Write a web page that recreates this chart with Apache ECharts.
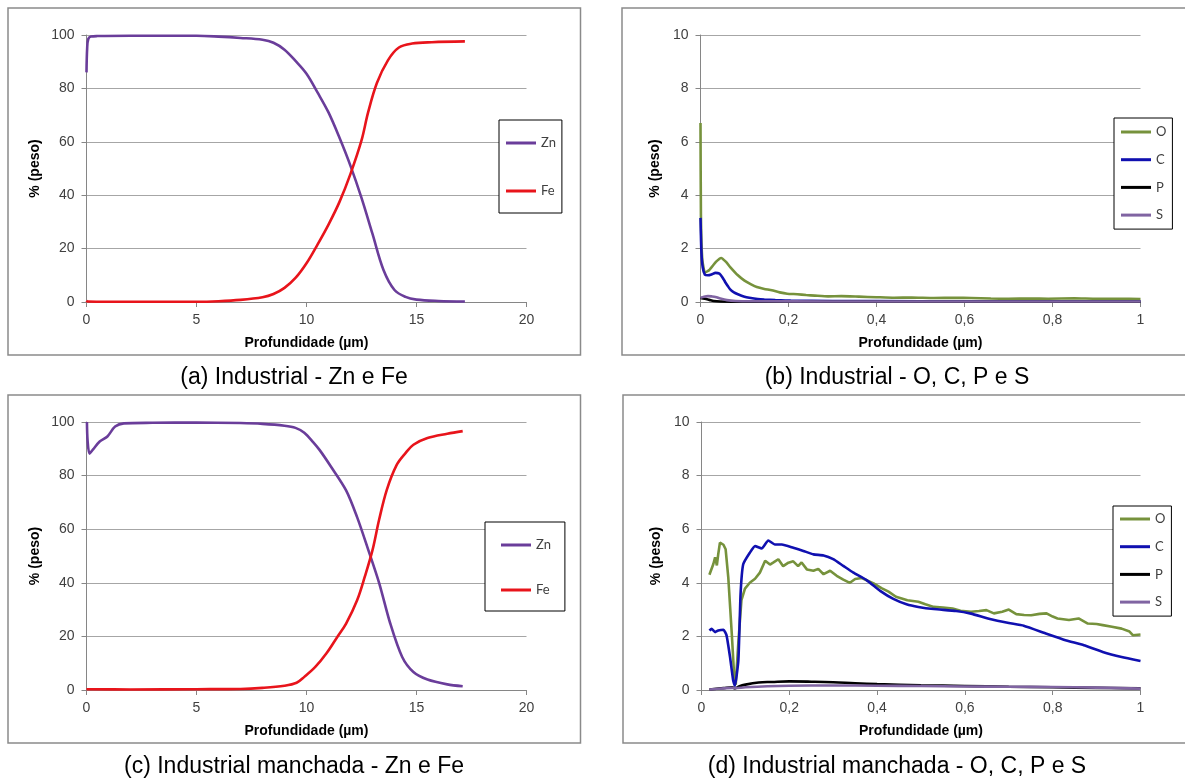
<!DOCTYPE html>
<html>
<head>
<meta charset="utf-8">
<script src="https://cdn.jsdelivr.net/npm/echarts@6/dist/echarts.min.js"></script>
<style>
html,body{margin:0;padding:0;background:#fff;}
#c{width:1185px;height:782px;}
</style>
</head>
<body>
<div id="c"></div>
<script>
// ---- data: [depth (µm), % weight] ----
const znA = [[0,86],[0.03,95],[0.08,98.5],[0.2,99.4],[0.5,99.6],[2,99.7],[4,99.7],[5,99.7],[6,99.4],[7,98.9],[8,98.2],[8.5,97.1],[9,94.5],[9.5,90.3],[10,85.5],[10.5,78.5],[11,71],[11.5,61.5],[12,51],[12.5,39],[13,25.5],[13.5,12],[14,4.5],[14.5,1.9],[15,0.9],[16,0.4],[17.2,0.2]];
const feA = [[0,0.5],[0.05,0.2],[1,0.1],[5,0.1],[6,0.3],[7,0.8],[8,1.8],[8.5,3],[9,5.3],[9.5,9],[10,14.5],[10.5,21.5],[11,29],[11.5,37.5],[12,48],[12.5,60.5],[12.8,71],[13.2,82],[13.7,90.5],[14.2,95.3],[14.8,96.8],[15.7,97.3],[17.2,97.6]];

const oB = [[0,6.7],[0.001,3.2],[0.004,1.6],[0.01,1.1],[0.02,1.2],[0.035,1.5],[0.047,1.65],[0.058,1.5],[0.068,1.3],[0.085,1.0],[0.1,0.8],[0.115,0.66],[0.128,0.56],[0.145,0.49],[0.162,0.44],[0.18,0.36],[0.197,0.31],[0.22,0.29],[0.24,0.26],[0.26,0.24],[0.29,0.21],[0.32,0.22],[0.36,0.2],[0.4,0.18],[0.44,0.16],[0.48,0.17],[0.53,0.15],[0.58,0.16],[0.615,0.15],[0.66,0.13],[0.7,0.12],[0.75,0.13],[0.79,0.12],[0.85,0.14],[0.9,0.12],[0.95,0.12],[1,0.11]];
const cB = [[0,3.15],[0.002,1.9],[0.005,1.3],[0.01,1.02],[0.017,1.0],[0.025,1.03],[0.034,1.09],[0.043,1.06],[0.05,0.92],[0.056,0.75],[0.062,0.6],[0.068,0.46],[0.076,0.36],[0.085,0.29],[0.1,0.2],[0.111,0.16],[0.13,0.11],[0.145,0.09],[0.17,0.07],[0.205,0.05],[0.3,0.04],[0.5,0.03],[0.7,0.03],[1,0.03]];
const pB = [[0,0.15],[0.01,0.12],[0.02,0.08],[0.03,0.04],[0.045,0.02],[0.1,0.01],[0.5,0.01],[1,0.01]];
const sB = [[0,0.16],[0.008,0.2],[0.017,0.22],[0.025,0.21],[0.034,0.19],[0.045,0.13],[0.06,0.07],[0.08,0.04],[0.12,0.03],[0.3,0.02],[1,0.02]];

const znC = [[0.02,100],[0.05,93],[0.14,88.2],[0.3,89.8],[0.6,92.7],[0.95,94.6],[1.3,98.3],[1.7,99.5],[3,99.7],[5,99.8],[7,99.6],[8,99.3],[9,98.6],[9.5,97.8],[9.9,96],[10.3,92.5],[10.6,89.5],[11.1,83.5],[11.8,74.5],[12.3,64.5],[12.8,52.5],[13.3,40],[13.8,25],[14.35,12.3],[14.86,6.7],[15.5,3.9],[16.4,2.1],[17.1,1.4]];
const feC = [[0,0.3],[2,0.2],[5,0.3],[7,0.4],[8,0.8],[9,1.6],[9.55,2.7],[9.9,4.9],[10.4,8.6],[10.9,13.6],[11.4,19.8],[11.8,24.8],[12.3,33.5],[12.65,42.3],[13,52.2],[13.3,63.5],[13.65,74.7],[14.1,84],[14.5,88.4],[14.86,91.5],[15.5,94],[16.4,95.6],[17.1,96.6]];

const oD = [[0.018,4.3],[0.027,4.7],[0.031,4.95],[0.035,4.65],[0.038,5.05],[0.042,5.5],[0.05,5.42],[0.055,5.25],[0.061,4.2],[0.069,2.1],[0.075,0.35],[0.078,0.2],[0.084,1.8],[0.091,3.35],[0.099,3.78],[0.11,4.0],[0.122,4.15],[0.133,4.38],[0.145,4.82],[0.156,4.68],[0.164,4.76],[0.175,4.88],[0.186,4.62],[0.198,4.75],[0.209,4.8],[0.22,4.62],[0.228,4.76],[0.24,4.5],[0.255,4.45],[0.266,4.52],[0.278,4.32],[0.293,4.45],[0.308,4.26],[0.323,4.12],[0.338,4.0],[0.35,4.14],[0.365,4.18],[0.392,3.98],[0.41,3.8],[0.426,3.67],[0.443,3.48],[0.469,3.35],[0.494,3.29],[0.51,3.2],[0.529,3.1],[0.55,3.08],[0.572,3.04],[0.59,2.96],[0.614,2.92],[0.632,2.95],[0.649,2.98],[0.666,2.86],[0.685,2.92],[0.7,3.0],[0.717,2.83],[0.735,2.8],[0.751,2.79],[0.77,2.84],[0.786,2.86],[0.8,2.74],[0.811,2.67],[0.837,2.61],[0.859,2.67],[0.88,2.48],[0.9,2.46],[0.914,2.42],[0.935,2.36],[0.957,2.29],[0.975,2.18],[0.983,2.04],[1.0,2.07]];
const cD = [[0.018,2.22],[0.023,2.28],[0.031,2.16],[0.038,2.22],[0.05,2.25],[0.057,2.04],[0.065,1.23],[0.072,0.37],[0.076,0.15],[0.084,1.11],[0.089,3.58],[0.095,4.69],[0.11,5.12],[0.122,5.37],[0.137,5.28],[0.152,5.58],[0.167,5.43],[0.183,5.43],[0.209,5.31],[0.232,5.19],[0.255,5.06],[0.278,5.02],[0.3,4.88],[0.323,4.63],[0.346,4.38],[0.376,4.1],[0.407,3.7],[0.437,3.4],[0.467,3.2],[0.494,3.1],[0.529,3.02],[0.58,2.95],[0.614,2.85],[0.657,2.65],[0.7,2.5],[0.734,2.4],[0.786,2.1],[0.829,1.86],[0.871,1.67],[0.914,1.42],[0.957,1.23],[1.0,1.08]];
const pD = [[0.018,0.02],[0.05,0.07],[0.07,0.1],[0.076,0.06],[0.085,0.13],[0.1,0.2],[0.13,0.28],[0.16,0.3],[0.2,0.32],[0.25,0.31],[0.3,0.29],[0.35,0.25],[0.4,0.22],[0.5,0.18],[0.6,0.15],[0.7,0.12],[0.8,0.1],[0.9,0.08],[1,0.06]];
const sD = [[0.018,0.02],[0.05,0.06],[0.07,0.08],[0.076,0.07],[0.1,0.1],[0.15,0.14],[0.2,0.16],[0.3,0.17],[0.4,0.16],[0.5,0.15],[0.6,0.13],[0.7,0.12],[0.8,0.11],[0.9,0.09],[1,0.05]];

const captions = ['(a) Industrial - Zn e Fe','(b) Industrial - O, C, P e S','(c) Industrial manchada - Zn e Fe','(d) Industrial manchada - O, C, P e S'];
const yName = '% (peso)';
const xName = 'Profundidade (µm)';

// ---- styling / layout ----
const COL = {Zn:'#6a3d9a', Fe:'#e8141b', O:'#76923c', C:'#1010b0', P:'#000000', S:'#8064a2'};
const grids = [
  {left:86.5, top:35, width:440, height:267},
  {left:700.5, top:35, width:440, height:267},
  {left:86.5, top:422, width:440, height:268},
  {left:701.5, top:422, width:439, height:268}
];
const tickFont = {fontFamily:'Liberation Sans, Arial', fontSize:14, color:'#404040'};
function xAx(i, max, interval, fmt){
  return {type:'value', gridIndex:i, min:0, max:max, interval:interval,
    name:xName, nameLocation:'middle', nameGap:34,
    nameTextStyle:{fontFamily:'Liberation Sans, Arial', fontSize:14, fontWeight:'bold', color:'#000'},
    axisLine:{show:true, lineStyle:{color:'#868686', width:1}},
    axisTick:{show:true, length:5, lineStyle:{color:'#868686'}},
    axisLabel:Object.assign({margin:11, formatter:fmt}, tickFont),
    splitLine:{show:false}};
}
function yAx(i, max, interval, gap){
  return {type:'value', gridIndex:i, min:0, max:max, interval:interval,
    name:yName, nameLocation:'middle', nameGap:gap, nameRotate:90,
    nameTextStyle:{fontFamily:'Liberation Sans, Arial', fontSize:14, fontWeight:'bold', color:'#000'},
    axisLine:{show:true, lineStyle:{color:'#868686', width:1}},
    axisTick:{show:true, length:5, lineStyle:{color:'#868686'}},
    axisLabel:Object.assign({margin:12}, tickFont),
    splitLine:{show:true, lineStyle:{color:'#a6a6a6', width:1}}};
}
const fmtInt = v => String(v);
const fmtDec = v => String(+v.toFixed(1)).replace('.', ',');

function ser(name, data, i, smooth){
  return {type:'line', name:name, data:data, xAxisIndex:i, yAxisIndex:i,
    showSymbol:false, symbol:'none', smooth:smooth,
    lineStyle:{color:COL[name], width:2.6}, itemStyle:{color:COL[name]}, z:3, animation:false};
}
function leg(names, left, top, pad, gap){
  return {orient:'vertical', left:left, top:top, data:names, icon:'rect', itemWidth:30, itemHeight:3,
    itemGap:gap, padding:pad, backgroundColor:'#fff', borderColor:'#000', borderWidth:1,
    textStyle:{fontFamily:'Lato, Open Sans', fontSize:13, color:'#404040', lineHeight:14}, selectedMode:false, z:10};
}
function box(x,y,w,h){
  return {type:'rect', shape:{x:x,y:y,width:w,height:h}, style:{fill:null, stroke:'#8a8a8a', lineWidth:1.5}, z:0, silent:true};
}
function cap(t,x,y){
  return {type:'text', x:x, y:y, style:{text:t, fontFamily:'Liberation Sans, Arial', fontSize:23, fill:'#000', align:'center', verticalAlign:'middle'}, z:5};
}

const chart = echarts.init(document.getElementById('c'), null, {renderer:'canvas'});
chart.setOption({
  backgroundColor:'#fff',
  animation:false,
  grid:grids,
  xAxis:[xAx(0,20,5,fmtInt), xAx(1,1,0.2,fmtDec), xAx(2,20,5,fmtInt), xAx(3,1,0.2,fmtDec)],
  yAxis:[yAx(0,100,20,44), yAx(1,10,2,38), yAx(2,100,20,44), yAx(3,10,2,38)],
  legend:[
    leg(['Zn','Fe'], 499, 120, [16,6,15,7], 34),
    leg(['O','C','P','S'], 1114, 118, [7,6,7,7], 13.7),
    leg(['Zn','Fe'], 485, 522, [16,14,14,16], 31),
    leg(['O','C','P','S'], 1113, 506, [6,6,7,7], 13.7)
  ],
  series:[
    ser('Zn', znA, 0, 0.35), ser('Fe', feA, 0, 0.35),
    ser('O', oB, 1, 0.15), ser('C', cB, 1, 0.2), ser('P', pB, 1, 0.3), ser('S', sB, 1, 0.3),
    ser('Zn', znC, 2, 0.3), ser('Fe', feC, 2, 0.35),
    ser('O', oD, 3, false), ser('C', cD, 3, 0.15), ser('P', pD, 3, 0.4), ser('S', sD, 3, 0.4)
  ],
  graphic:[
    box(8,8,572.5,347), box(622,8,580,347), box(8,395,572.5,348), box(623,395,580,348),
    cap(captions[0],294,378), cap(captions[1],897,378), cap(captions[2],294,767), cap(captions[3],897,767)
  ]
});
</script>
</body>
</html>
